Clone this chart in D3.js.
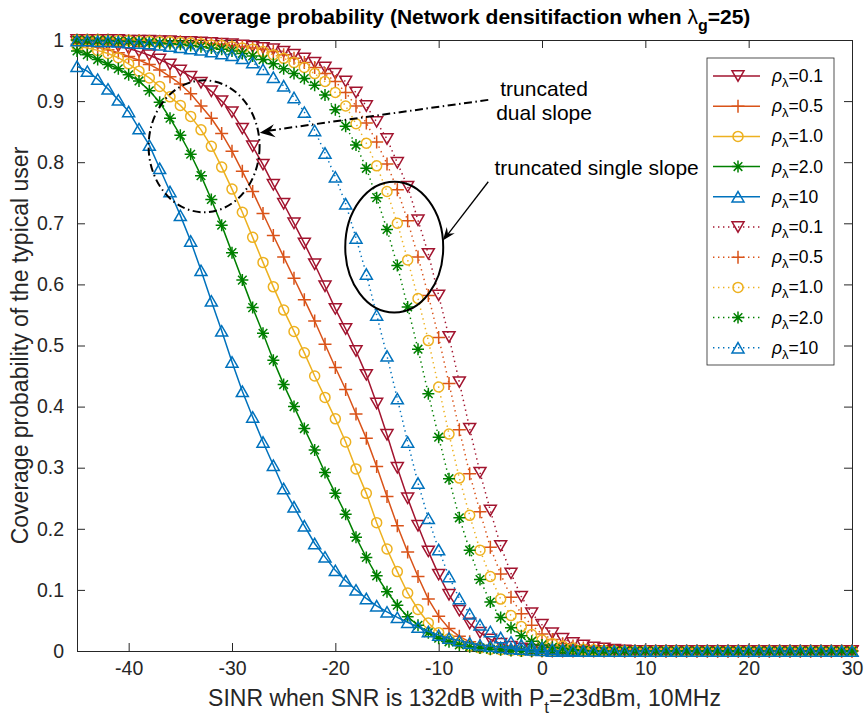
<!DOCTYPE html>
<html>
<head>
<meta charset="utf-8">
<script src="https://cdn.jsdelivr.net/npm/d3@7"></script>
<style>
	body { margin: 0; background: #fff; }
	text { font-family: "Liberation Sans", Arial, Helvetica, sans-serif; }
</style>
</head>
<body>
<svg width="867" height="725"></svg>
<script>
//	x grid, SINR in dB
var sinr = [-45,-44,-43,-42,-41,-40,-39,-38,-37,-36,
	-35,-34,-33,-32,-31,-30,-29,-28,-27,-26,
	-25,-24,-23,-22,-21,-20,-19,-18,-17,-16,
	-15,-14,-13,-12,-11,-10,-9,-8,-7,-6,
	-5,-4,-3,-2,-1,0,1,2,3,4,
	5,6,7,8,9,10,11,12,13,14,
	15,16,17,18,19,20,21,22,23,24,
	25,26,27,28,29,30];
var xTicks = [-40, -30, -20, -10, 0, 10, 20, 30];
var yTicks = [0, 0.1, 0.2, 0.3, 0.4, 0.5, 0.6, 0.7, 0.8, 0.9, 1];
var yTickLabels = ["0", "0.1", "0.2", "0.3", "0.4", "0.5", "0.6", "0.7", "0.8", "0.9", "1"];
var rhoLabels = ["0.1", "0.5", "1.0", "2.0", "10", "0.1", "0.5", "1.0", "2.0", "10"];

//	truncated dual slope (solid lines)
var dualRho01 = [0.997,0.996,0.994,0.992,0.990,0.986,0.981,0.975,0.968,0.960,
	0.950,0.940,0.930,0.916,0.900,0.882,0.855,0.826,0.796,0.763,
	0.732,0.700,0.667,0.633,0.597,0.560,0.527,0.491,0.452,0.405,
	0.354,0.300,0.250,0.205,0.163,0.125,0.092,0.066,0.045,0.030,
	0.019,0.012,0.007,0.004,0.002,0.001,0,0,0,0,
	0,0,0,0,0,0,0,0,0,0,
	0,0,0,0,0,0,0,0,0,0,
	0,0,0,0,0,0];
var dualRho05 = [0.993,0.991,0.988,0.984,0.979,0.973,0.967,0.960,0.951,0.940,
	0.928,0.912,0.892,0.872,0.847,0.818,0.785,0.752,0.716,0.680,
	0.645,0.610,0.575,0.540,0.502,0.464,0.428,0.388,0.348,0.302,
	0.253,0.205,0.162,0.122,0.085,0.057,0.037,0.024,0.015,0.009,
	0.006,0.004,0.002,0.001,0,0,0,0,0,0,
	0,0,0,0,0,0,0,0,0,0,
	0,0,0,0,0,0,0,0,0,0,
	0,0,0,0,0,0];
var dualRho1 = [0.990,0.987,0.983,0.978,0.971,0.961,0.949,0.938,0.924,0.907,
	0.893,0.875,0.853,0.826,0.792,0.756,0.718,0.677,0.636,0.596,
	0.558,0.523,0.488,0.450,0.415,0.380,0.342,0.298,0.258,0.210,
	0.167,0.130,0.095,0.068,0.046,0.030,0.020,0.013,0.008,0.005,
	0.003,0.002,0.001,0,0,0,0,0,0,0,
	0,0,0,0,0,0,0,0,0,0,
	0,0,0,0,0,0,0,0,0,0,
	0,0,0,0,0,0];
var dualRho2 = [0.982,0.976,0.968,0.960,0.953,0.943,0.933,0.917,0.898,0.872,
	0.844,0.813,0.778,0.739,0.697,0.652,0.607,0.562,0.520,0.476,
	0.436,0.400,0.364,0.329,0.292,0.258,0.224,0.186,0.153,0.123,
	0.097,0.075,0.056,0.042,0.030,0.021,0.015,0.010,0.007,0.005,
	0.003,0.002,0.001,0,0,0,0,0,0,0,
	0,0,0,0,0,0,0,0,0,0,
	0,0,0,0,0,0,0,0,0,0,
	0,0,0,0,0,0];
var dualRho10 = [0.957,0.949,0.936,0.920,0.902,0.883,0.855,0.828,0.790,0.752,
	0.713,0.671,0.623,0.573,0.524,0.473,0.425,0.383,0.342,0.304,
	0.266,0.236,0.205,0.176,0.154,0.132,0.115,0.100,0.086,0.074,
	0.064,0.055,0.047,0.039,0.032,0.026,0.021,0.017,0.013,0.010,
	0.008,0.006,0.004,0.003,0.002,0.001,0,0,0,0,
	0,0,0,0,0,0,0,0,0,0,
	0,0,0,0,0,0,0,0,0,0,
	0,0,0,0,0,0];

//	truncated single slope (dotted lines)
var singleRho01 = [1.000,1.000,1.000,1.000,1.000,0.999,0.999,0.999,0.998,0.998,
	0.997,0.997,0.996,0.995,0.994,0.993,0.991,0.989,0.987,0.985,
	0.981,0.976,0.970,0.963,0.955,0.945,0.932,0.914,0.892,0.866,
	0.838,0.799,0.760,0.705,0.650,0.582,0.514,0.440,0.364,0.292,
	0.230,0.172,0.127,0.089,0.062,0.043,0.029,0.020,0.013,0.009,
	0.006,0.004,0.002,0.001,0,0,0,0,0,0,
	0,0,0,0,0,0,0,0,0,0,
	0,0,0,0,0,0];
var singleRho05 = [1.000,1.000,1.000,1.000,0.999,0.999,0.999,0.998,0.998,0.997,
	0.997,0.996,0.995,0.994,0.993,0.991,0.989,0.987,0.985,0.981,
	0.976,0.970,0.963,0.955,0.945,0.932,0.914,0.892,0.864,0.833,
	0.797,0.755,0.704,0.645,0.582,0.513,0.438,0.362,0.290,0.228,
	0.170,0.126,0.088,0.061,0.042,0.028,0.019,0.012,0.008,0.005,
	0.003,0.002,0.001,0,0,0,0,0,0,0,
	0,0,0,0,0,0,0,0,0,0,
	0,0,0,0,0,0];
var singleRho1 = [1.000,1.000,1.000,0.999,0.999,0.999,0.998,0.998,0.997,0.997,
	0.996,0.995,0.994,0.992,0.991,0.989,0.987,0.985,0.981,0.976,
	0.970,0.963,0.955,0.945,0.932,0.914,0.892,0.863,0.831,0.794,
	0.752,0.700,0.640,0.577,0.508,0.432,0.355,0.283,0.222,0.165,
	0.122,0.085,0.058,0.040,0.027,0.018,0.012,0.008,0.005,0.003,
	0.002,0.001,0,0,0,0,0,0,0,0,
	0,0,0,0,0,0,0,0,0,0,
	0,0,0,0,0,0];
var singleRho2 = [1.000,0.999,0.999,0.999,0.998,0.998,0.997,0.996,0.995,0.994,
	0.993,0.991,0.989,0.987,0.985,0.982,0.978,0.974,0.968,0.961,
	0.953,0.945,0.937,0.926,0.910,0.886,0.859,0.828,0.790,0.742,
	0.690,0.631,0.563,0.494,0.421,0.350,0.282,0.218,0.165,0.117,
	0.080,0.055,0.038,0.025,0.016,0.010,0.006,0.004,0.002,0.001,
	0,0,0,0,0,0,0,0,0,0,
	0,0,0,0,0,0,0,0,0,0,
	0,0,0,0,0,0];
var singleRho10 = [0.999,0.999,0.998,0.998,0.997,0.996,0.995,0.994,0.992,0.990,
	0.988,0.986,0.984,0.981,0.978,0.975,0.970,0.963,0.952,0.939,
	0.925,0.906,0.882,0.852,0.815,0.776,0.732,0.676,0.617,0.550,
	0.483,0.413,0.342,0.275,0.217,0.166,0.122,0.086,0.061,0.043,
	0.032,0.022,0.015,0.010,0.007,0.005,0.003,0.002,0.001,0,
	0,0,0,0,0,0,0,0,0,0,
	0,0,0,0,0,0,0,0,0,0,
	0,0,0,0,0,0];

//	matlab-ish colours and markers
var colRed = "#A2142F", colOrange = "#D95319", colYellow = "#EDB120", colGreen = "#008000", colBlue = "#0072BD";
var series = [
	{values: dualRho01, color: colRed, marker: "v", dotted: false},
	{values: dualRho05, color: colOrange, marker: "+", dotted: false},
	{values: dualRho1, color: colYellow, marker: "o", dotted: false},
	{values: dualRho2, color: colGreen, marker: "*", dotted: false},
	{values: dualRho10, color: colBlue, marker: "^", dotted: false},
	{values: singleRho01, color: colRed, marker: "v", dotted: true},
	{values: singleRho05, color: colOrange, marker: "+", dotted: true},
	{values: singleRho1, color: colYellow, marker: "o", dotted: true},
	{values: singleRho2, color: colGreen, marker: "*", dotted: true},
	{values: singleRho10, color: colBlue, marker: "^", dotted: true}
];

var svg = d3.select("svg"),
	margin = {top: 40, right: 15, bottom: 74, left: 77};
var width = +svg.attr("width") - margin.left - margin.right,
	height = +svg.attr("height") - margin.top - margin.bottom;
var g = svg.append("g").attr("transform", "translate(" + margin.left + "," + margin.top + ")");

var x = d3.scaleLinear().domain([-45, 30]).range([0, width]),
	y = d3.scaleLinear().domain([0, 1]).range([height, 0]);

var axisCol = "#262626";
var tickFont = 19.5;
var dotDash = "1.4,3.6";

//	marker shapes, centred on the point
function markerPath(m) {
	if (m == "v") return "M-6,-5.2L6,-5.2L0,5.2Z";
	if (m == "^") return "M-6,5.2L6,5.2L0,-5.2Z";
	if (m == "o") return "M5,0A5,5 0 1,1 -5,0A5,5 0 1,1 5,0Z";
	if (m == "+") return "M-6.5,0H6.5M0,-6.5V6.5";
	return "M-6,0H6M0,-6V6M-4.3,-4.3L4.3,4.3M-4.3,4.3L4.3,-4.3";
}

//	axes, ticks pointing inward like matlab
g.append("g")
	.attr("class", "axisX")
	.attr("transform", "translate(0," + height + ")")
	.call(d3.axisBottom(x).tickValues(xTicks).tickSizeInner(-8).tickSizeOuter(0).tickPadding(10)
		.tickFormat(function(d) { return String(d); }));
g.append("g")
	.attr("class", "axisY")
	.call(d3.axisLeft(y).tickValues(yTicks).tickSizeInner(-8).tickSizeOuter(0).tickPadding(13)
		.tickFormat(function(d, i) { return yTickLabels[i]; }));
g.append("g")
	.attr("class", "axisTop")
	.call(d3.axisTop(x).tickValues(xTicks).tickSizeInner(-8).tickSizeOuter(0).tickFormat(""));
g.append("g")
	.attr("class", "axisRight")
	.attr("transform", "translate(" + width + ",0)")
	.call(d3.axisRight(y).tickValues(yTicks).tickSizeInner(-8).tickSizeOuter(0).tickFormat(""));

g.selectAll(".axisX, .axisY, .axisTop, .axisRight")
	.attr("font-family", null)
	.attr("font-size", tickFont);
g.selectAll(".domain, .tick line").attr("stroke", axisCol).attr("stroke-width", 1);
g.selectAll(".tick text").attr("fill", axisCol);

//	the curves
var line = d3.line()
	.x(function(d, i) { return x(sinr[i]); })
	.y(function(d) { return y(d); });

series.forEach(function(s) {
	g.append("path")
		.datum(s.values)
		.attr("d", line)
		.attr("fill", "none")
		.attr("stroke", s.color)
		.attr("stroke-width", 1.5)
		.attr("stroke-dasharray", s.dotted ? dotDash : null);
	g.append("g").selectAll("path")
		.data(s.values)
		.enter().append("path")
			.attr("transform", function(d, i) { return "translate(" + x(sinr[i]) + "," + y(d) + ")"; })
			.attr("d", markerPath(s.marker))
			.attr("fill", "none")
			.attr("stroke", s.color)
			.attr("stroke-width", 1.5);
});

//	annotations: ellipses and arrows
function arrowHead(x1, y1, x2, y2, len, half) {
	var a = Math.atan2(y2 - y1, x2 - x1);
	var c = Math.cos(a), s = Math.sin(a);
	var bx = x2 - len * c, by = y2 - len * s;
	var nx = x2 - len * 0.65 * c, ny = y2 - len * 0.65 * s;
	return "M" + x2 + "," + y2 +
		"L" + (bx - half * s) + "," + (by + half * c) +
		"L" + nx + "," + ny +
		"L" + (bx + half * s) + "," + (by - half * c) + "Z";
}

var ann = g.append("g").attr("class", "annotations");
ann.append("ellipse")
	.attr("cx", x(-32.7)).attr("cy", y(0.826))
	.attr("rx", x(-32.7 + 5.37) - x(-32.7)).attr("ry", y(0) - y(0.108))
	.attr("fill", "none").attr("stroke", "#000").attr("stroke-width", 2)
	.attr("stroke-dasharray", "8,3.5,1.5,3.5");
ann.append("ellipse")
	.attr("cx", x(-14.3)).attr("cy", y(0.661))
	.attr("rx", x(-14.3 + 4.74) - x(-14.3)).attr("ry", y(0) - y(0.107))
	.attr("fill", "none").attr("stroke", "#000").attr("stroke-width", 2);

var a1 = [x(-5.2), y(0.902), x(-27.3), y(0.848)];
ann.append("line")
	.attr("x1", a1[0]).attr("y1", a1[1]).attr("x2", a1[2] + 10).attr("y2", a1[3] - 2.4)
	.attr("stroke", "#000").attr("stroke-width", 2)
	.attr("stroke-dasharray", "8,3.5,1.5,3.5");
ann.append("path").attr("d", arrowHead(a1[0], a1[1], a1[2], a1[3], 15, 6.5)).attr("fill", "#000");

var a2 = [x(-5.2), y(0.768), x(-9.6), y(0.672)];
ann.append("line")
	.attr("x1", a2[0]).attr("y1", a2[1]).attr("x2", a2[2] + 5).attr("y2", a2[3] - 6)
	.attr("stroke", "#000").attr("stroke-width", 1.3);
ann.append("path").attr("d", arrowHead(a2[0], a2[1], a2[2], a2[3], 13, 5)).attr("fill", "#000");

ann.append("text").attr("x", x(0.2)).attr("y", y(0.908)).attr("text-anchor", "middle")
	.attr("font-size", 21).attr("fill", "#000").text("truncated");
ann.append("text").attr("x", x(0.2)).attr("y", y(0.869)).attr("text-anchor", "middle")
	.attr("font-size", 21).attr("fill", "#000").text("dual slope");
ann.append("text").attr("x", x(-4.6)).attr("y", y(0.779))
	.attr("font-size", 21).attr("fill", "#000").text("truncated single slope");

//	legend
var leg = svg.append("g").attr("class", "legend");
leg.append("rect")
	.attr("x", 707).attr("y", 58).attr("width", 127).attr("height", 307)
	.attr("fill", "#fff").attr("stroke", axisCol).attr("stroke-width", 0.8);
series.forEach(function(s, i) {
	var yy = 76 + i * 30.2;
	leg.append("line")
		.attr("x1", 713).attr("x2", 760).attr("y1", yy).attr("y2", yy)
		.attr("stroke", s.color).attr("stroke-width", 1.5)
		.attr("stroke-dasharray", s.dotted ? dotDash : null);
	leg.append("path")
		.attr("transform", "translate(738," + yy + ")")
		.attr("d", markerPath(s.marker))
		.attr("fill", "none").attr("stroke", s.color).attr("stroke-width", 1.5);
	var t = leg.append("text").attr("x", 772).attr("y", yy + 6).attr("font-size", 17.5).attr("fill", "#000");
	t.append("tspan").attr("font-style", "italic").text("\u03C1");
	t.append("tspan").attr("dy", 5).attr("font-size", 13).text("\u03BB");
	t.append("tspan").attr("dy", -5).text("=" + rhoLabels[i]);
});

//	title and axis labels
var title = svg.append("text")
	.attr("x", margin.left + width / 2).attr("y", 24)
	.attr("text-anchor", "middle").attr("font-size", 21).attr("font-weight", "bold").attr("fill", "#000");
title.append("tspan").text("coverage probability (Network densitifaction when ");
title.append("tspan").attr("font-weight", "normal").text("\u03BB");
title.append("tspan").attr("dy", 7).attr("font-size", 16).text("g");
title.append("tspan").attr("dy", -7).text("=25)");

var xlab = svg.append("text")
	.attr("x", margin.left + width / 2).attr("y", 706)
	.attr("text-anchor", "middle").attr("font-size", 23).attr("fill", axisCol);
xlab.append("tspan").text("SINR when SNR is 132dB with P");
xlab.append("tspan").attr("dy", 7).attr("font-size", 17).text("t");
xlab.append("tspan").attr("dy", -7).text("=23dBm, 10MHz");

svg.append("text")
	.attr("transform", "rotate(-90)")
	.attr("x", -(margin.top + height / 2)).attr("y", 28)
	.attr("text-anchor", "middle").attr("font-size", 23).attr("fill", axisCol)
	.text("Coverage probability of the typical user");
</script>
</body>
</html>
